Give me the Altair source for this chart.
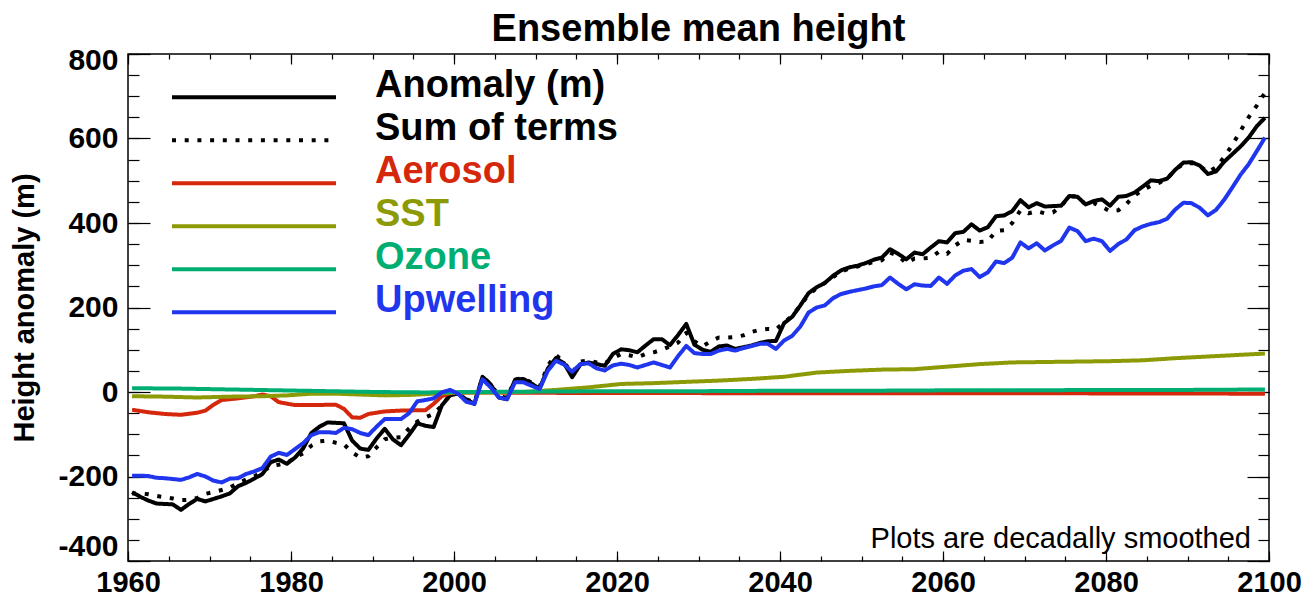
import altair as alt
import pandas as pd

FONT = "Liberation Sans"

# annual samples (plotted at mid-year)
YEARS = list(range(1960, 2100))

ANOMALY = [
    -237, -248, -257, -264, -265, -266, -279, -265, -253, -259,
    -253, -247, -240, -223, -215, -205, -194, -166, -160, -170,
    -155, -133, -97, -82, -72, -73, -74, -115, -134, -137,
    -110, -87, -112, -126, -101, -74, -80, -83, -32, -8,
    -3, -18, -28, 36, 18, -13, -17, 29, 31, 20,
    8, 55, 80, 68, 35, 65, 70, 66, 62, 90,
    101, 99, 94, 110, 125, 125, 111, 135, 161, 112,
    100, 95, 108, 110, 102, 106, 110, 116, 120, 121,
    163, 178, 205, 234, 248, 258, 275, 288, 295, 299,
    305, 313, 318, 338, 327, 314, 330, 326, 342, 357,
    354, 376, 379, 397, 382, 390, 416, 418, 428, 454,
    437, 447, 439, 440, 441, 464, 462, 444, 452, 456,
    441, 462, 464, 472, 486, 501, 499, 505, 526, 543,
    544, 536, 516, 522, 545, 563, 581, 602, 629, 649,
]

SUM_TERMS = [
    -240, -240, -242, -246, -249, -252, -256, -255, -251, -241,
    -237, -232, -226, -216, -207, -200, -188, -176, -172, -168,
    -155, -145, -127, -117, -115, -120, -124, -143, -155, -152,
    -131, -112, -108, -107, -86, -70, -60, -52, -32, -8,
    -3, -17, -25, 34, 20, -10, -14, 30, 33, 22,
    12, 62, 88, 70, 45, 72, 74, 70, 68, 80,
    90, 87, 82, 90, 94, 100, 108, 117, 140, 120,
    108, 120, 129, 129, 130, 134, 142, 147, 149, 148,
    165, 180, 205, 230, 246, 258, 272, 285, 292, 297,
    302, 308, 312, 330, 322, 305, 316, 316, 318, 332,
    327, 347, 360, 358, 355, 357, 381, 383, 400, 430,
    423, 428, 423, 425, 440, 462, 464, 443, 447, 438,
    428, 430, 445, 465, 478, 488, 495, 505, 526, 540,
    542, 535, 520, 532, 556, 585, 618, 650, 678, 708,
]

UPWELLING = [
    -198, -198, -199, -203, -204, -206, -208, -202, -194, -200,
    -210, -214, -205, -204, -194, -188, -180, -153, -144, -149,
    -135, -121, -102, -95, -95, -97, -85, -88, -97, -102,
    -82, -64, -64, -64, -50, -22, -19, -15, -1, 5,
    -4, -23, -28, 30, 11, -13, -17, 23, 23, 15,
    7, 50, 74, 65, 48, 66, 68, 56, 51, 63,
    67, 64, 58, 64, 70, 64, 58, 85, 109, 92,
    90, 90, 98, 102, 98, 104, 109, 114, 114, 102,
    122, 133, 155, 188, 200, 205, 222, 232, 237, 241,
    245, 250, 253, 271, 256, 243, 255, 252, 251, 271,
    256, 276, 287, 291, 272, 283, 309, 305, 318, 354,
    340, 352, 335, 347, 358, 389, 381, 357, 363, 357,
    334, 350, 361, 383, 392, 398, 402, 410, 432, 448,
    447, 436, 418, 431, 455, 484, 514, 539, 570, 602,
]

AEROSOL_YEARS = [1960, 1962, 1964, 1966, 1968, 1969, 1970, 1971, 1973, 1975,
                 1976, 1977, 1978, 1980, 1982, 1985, 1986, 1987, 1988, 1989,
                 1991, 1993, 1996, 1997, 1998, 1999, 2001, 2010, 2040, 2070, 2099]
AEROSOL = [-42, -48, -52, -54, -49, -44, -30, -19, -15, -10,
           -6, -10, -24, -31, -31, -30, -40, -60, -61, -52,
           -46, -44, -43, -28, -10, -3, -1, -2, -3, -3, -4]

SST_YEARS = [1960, 1964, 1968, 1972, 1976, 1979, 1982, 1985, 1988, 1991,
             1994, 1997, 2000, 2004, 2008, 2012, 2016, 2020, 2024, 2028,
             2032, 2036, 2040, 2044, 2048, 2052, 2056, 2060, 2064, 2068,
             2072, 2076, 2080, 2084, 2088, 2092, 2096, 2099]
SST = [-10, -11, -13, -11, -10, -8, -4, -4, -6, -8,
       -7, -4, -1, -1, 0, 5, 11, 19, 21, 24,
       27, 31, 36, 46, 50, 53, 54, 60, 66, 70,
       71, 72, 73, 75, 80, 84, 88, 91]

OZONE_YEARS = [1960, 1966, 1972, 1978, 1984, 1990, 1996, 2002, 2010, 2020,
               2030, 2040, 2050, 2060, 2070, 2080, 2090, 2099]
OZONE = [9, 8, 6, 4, 2, 0, -1, 0, 1, 2, 2, 3, 3, 4, 4, 5, 5, 6]

SERIES = ["Anomaly (m)", "Sum of terms", "Aerosol", "SST", "Ozone", "Upwelling"]
COLORS = ["#000000", "#000000", "#d4270c", "#8c9a05", "#00ae72", "#1f36ee"]
DASHES = [[1, 0], [4, 8.7], [1, 0], [1, 0], [1, 0], [1, 0]]

TITLE = "Ensemble mean height"
Y_TITLE = "Height anomaly (m)"
NOTE = "Plots are decadally smoothed"

X_MAJOR = list(range(1960, 2101, 20))
X_MINOR = list(range(1960, 2101, 5))
Y_MAJOR = list(range(-400, 801, 200))
Y_MINOR = list(range(-400, 801, 50))

rows = []
for name, yrs, vals in [
    (SERIES[0], YEARS, ANOMALY),
    (SERIES[1], YEARS, SUM_TERMS),
    (SERIES[2], AEROSOL_YEARS, AEROSOL),
    (SERIES[3], SST_YEARS, SST),
    (SERIES[4], OZONE_YEARS, OZONE),
    (SERIES[5], YEARS, UPWELLING),
]:
    for yr, v in zip(yrs, vals):
        rows.append({"series": name, "t": yr + 0.5, "v": v})
df = pd.DataFrame(rows)

xs = alt.Scale(domain=[1960, 2100], nice=False, zero=False)
ys = alt.Scale(domain=[-400, 800], nice=False, zero=False)

tick_style = dict(domain=False, grid=False, tickColor="black", tickWidth=1.2)


def xaxis(orient, major):
    if major and orient == "bottom":
        return alt.Axis(orient=orient, values=X_MAJOR, format="d", tickSize=10, offset=-10,
                        labelFontSize=29, labelFontWeight="bold", labelFont=FONT,
                        labelColor="black", labelPadding=30, labelBaseline="alphabetic",
                        labelFlush=False, labelOverlap=False, title=None, **tick_style)
    if major:
        return alt.Axis(orient=orient, values=X_MAJOR, tickSize=10, offset=-10,
                        labels=False, title=None, **tick_style)
    return alt.Axis(orient=orient, values=X_MINOR, tickSize=5, offset=-5,
                    labels=False, title=None, **tick_style)


def yaxis(orient, major):
    if major and orient == "left":
        return alt.Axis(orient=orient, values=Y_MAJOR, tickSize=22, offset=-22,
                        labelExpr="'' + datum.value",
                        labelFontSize=30, labelFontWeight="bold", labelFont=FONT,
                        labelColor="black", labelPadding=10, labelFlush=True,
                        labelOffset=alt.ExprRef("datum.value == 800 ? -9 : 0"),
                        labelOverlap=False, title=Y_TITLE, titleFont=FONT,
                        titleFontSize=29, titleFontWeight="bold", titleColor="black",
                        titlePadding=18, **tick_style)
    if major:
        return alt.Axis(orient=orient, values=Y_MAJOR, tickSize=22, offset=-22,
                        labels=False, title=None, **tick_style)
    return alt.Axis(orient=orient, values=Y_MINOR, tickSize=11, offset=-11,
                    labels=False, title=None, **tick_style)


color_expr = " : ".join(
    f"datum.value == '{s}' ? '{c}'" for s, c in zip(SERIES, COLORS)
) + " : 'black'"

LEG = alt.Legend(
    title=None, orient="none", legendX=42, legendY=22,
    symbolType="stroke", symbolSize=26896, symbolStrokeWidth=4,
    clipHeight=42.4, rowPadding=-9.6, padding=0, labelOffset=37,
    labelFont=FONT, labelFontSize=38, labelFontWeight="bold",
    labelBaseline="alphabetic", labelLimit=600,
    labelColor=alt.ExprRef(color_expr),
)

axes_plan = [
    (xaxis("bottom", True), yaxis("left", True)),
    (xaxis("bottom", False), yaxis("left", False)),
    (xaxis("top", True), yaxis("right", True)),
    (xaxis("top", False), yaxis("right", False)),
    (None, None),
    (None, None),
]

layers = []
for i, name in enumerate(SERIES):
    xa, ya = axes_plan[i]
    leg = LEG if i == 0 else None
    layer = (
        alt.Chart(df)
        .transform_filter(alt.datum.series == name)
        .mark_line(strokeWidth=4, strokeCap="butt", strokeJoin="round")
        .encode(
            x=alt.X("t:Q", scale=xs, axis=xa),
            y=alt.Y("v:Q", scale=ys, axis=ya),
            color=alt.Color("series:N", scale=alt.Scale(domain=SERIES, range=COLORS), legend=leg),
            strokeDash=alt.StrokeDash("series:N", scale=alt.Scale(domain=SERIES, range=DASHES), legend=leg),
        )
    )
    layers.append(layer)

note = (
    alt.Chart(pd.DataFrame({"note": [NOTE]}))
    .mark_text(align="right", baseline="alphabetic", fontSize=29, font=FONT, color="black")
    .encode(text="note:N", x=alt.value(1123), y=alt.value(494))
)
layers.append(note)

chart = (
    alt.layer(*layers)
    .resolve_axis(x="independent", y="independent")
    .properties(
        width=1141,
        height=507,
        title=alt.TitleParams(TITLE, fontSize=38, fontWeight="bold", font=FONT,
                              anchor="middle", offset=0, dy=4, color="black"),
        autosize=alt.AutoSizeParams(type="none"),
        padding={"left": 120, "top": 46, "right": 33, "bottom": 37},
    )
    .configure_view(stroke="black", strokeWidth=1.5)
)

chart.save("out.html", embed_options={"renderer": "svg", "actions": False})
